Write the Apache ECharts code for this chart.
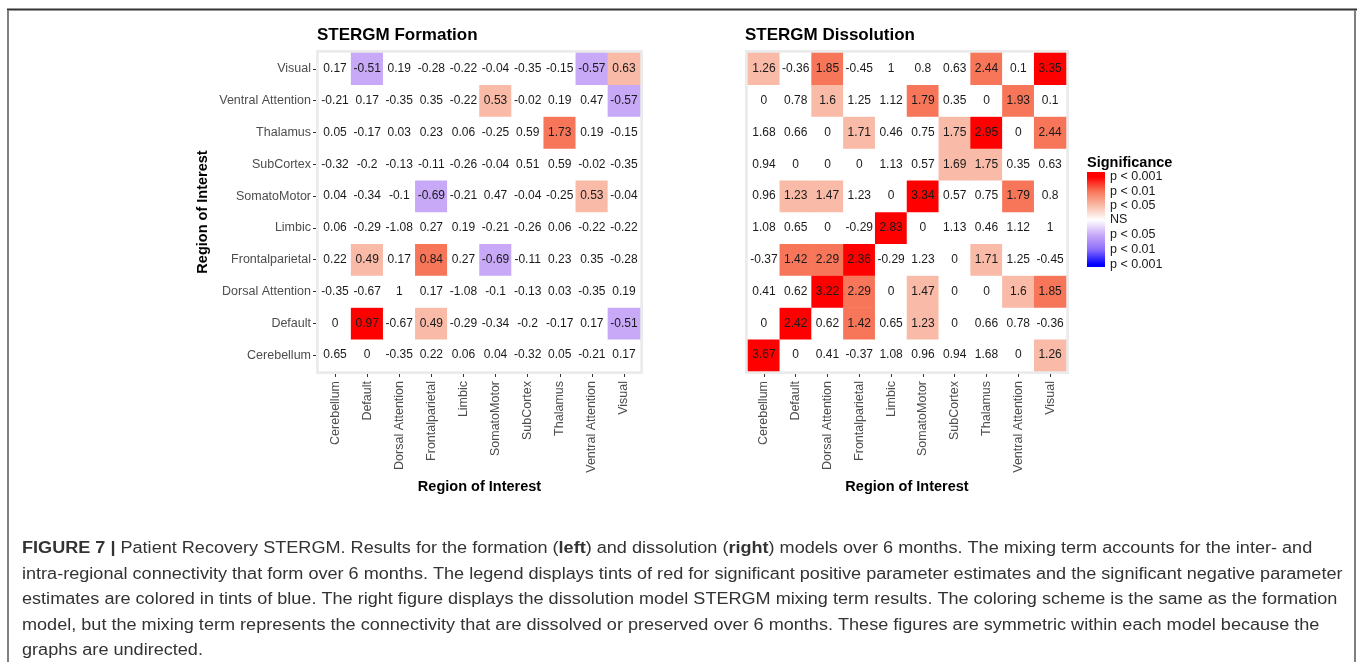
<!DOCTYPE html>
<html>
<head>
<meta charset="utf-8">
<title>STERGM Formation and Dissolution</title>
<script src="https://cdn.jsdelivr.net/npm/echarts@6/dist/echarts.min.js"></script>
<style>
  html, body { margin: 0; padding: 0; background: #ffffff; }
  #chart { width: 1358px; height: 662px; }
</style>
</head>
<body>
<div id="chart"></div>
<script>
// Regions of interest, bottom-to-top on the y axis and left-to-right on the x axis
const regions = ['Cerebellum', 'Default', 'Dorsal Attention', 'Frontalparietal', 'Limbic',
  'SomatoMotor', 'SubCortex', 'Thalamus', 'Ventral Attention', 'Visual'];

// Formation model: parameter estimates, one row per region (same order as `regions`)
const formationEstimates = [
  [0.65, 0, -0.35, 0.22, 0.06, 0.04, -0.32, 0.05, -0.21, 0.17],
  [0, 0.97, -0.67, 0.49, -0.29, -0.34, -0.2, -0.17, 0.17, -0.51],
  [-0.35, -0.67, 1, 0.17, -1.08, -0.1, -0.13, 0.03, -0.35, 0.19],
  [0.22, 0.49, 0.17, 0.84, 0.27, -0.69, -0.11, 0.23, 0.35, -0.28],
  [0.06, -0.29, -1.08, 0.27, 0.19, -0.21, -0.26, 0.06, -0.22, -0.22],
  [0.04, -0.34, -0.1, -0.69, -0.21, 0.47, -0.04, -0.25, 0.53, -0.04],
  [-0.32, -0.2, -0.13, -0.11, -0.26, -0.04, 0.51, 0.59, -0.02, -0.35],
  [0.05, -0.17, 0.03, 0.23, 0.06, -0.25, 0.59, 1.73, 0.19, -0.15],
  [-0.21, 0.17, -0.35, 0.35, -0.22, 0.53, -0.02, 0.19, 0.47, -0.57],
  [0.17, -0.51, 0.19, -0.28, -0.22, -0.04, -0.35, -0.15, -0.57, 0.63]
];

// Formation model: significance level (sign = direction; 1: p<0.05, 2: p<0.01, 3: p<0.001)
const formationSignificance = [
  [0, 0, 0, 0, 0, 0, 0, 0, 0, 0],
  [0, 3, 0, 1, 0, 0, 0, 0, 0, -1],
  [0, 0, 0, 0, 0, 0, 0, 0, 0, 0],
  [0, 1, 0, 2, 0, -1, 0, 0, 0, 0],
  [0, 0, 0, 0, 0, 0, 0, 0, 0, 0],
  [0, 0, 0, -1, 0, 0, 0, 0, 1, 0],
  [0, 0, 0, 0, 0, 0, 0, 0, 0, 0],
  [0, 0, 0, 0, 0, 0, 0, 2, 0, 0],
  [0, 0, 0, 0, 0, 1, 0, 0, 0, -1],
  [0, -1, 0, 0, 0, 0, 0, 0, -1, 1]
];

// Dissolution model: parameter estimates
const dissolutionEstimates = [
  [3.67, 0, 0.41, -0.37, 1.08, 0.96, 0.94, 1.68, 0, 1.26],
  [0, 2.42, 0.62, 1.42, 0.65, 1.23, 0, 0.66, 0.78, -0.36],
  [0.41, 0.62, 3.22, 2.29, 0, 1.47, 0, 0, 1.6, 1.85],
  [-0.37, 1.42, 2.29, 2.36, -0.29, 1.23, 0, 1.71, 1.25, -0.45],
  [1.08, 0.65, 0, -0.29, 2.83, 0, 1.13, 0.46, 1.12, 1],
  [0.96, 1.23, 1.47, 1.23, 0, 3.34, 0.57, 0.75, 1.79, 0.8],
  [0.94, 0, 0, 0, 1.13, 0.57, 1.69, 1.75, 0.35, 0.63],
  [1.68, 0.66, 0, 1.71, 0.46, 0.75, 1.75, 2.95, 0, 2.44],
  [0, 0.78, 1.6, 1.25, 1.12, 1.79, 0.35, 0, 1.93, 0.1],
  [1.26, -0.36, 1.85, -0.45, 1, 0.8, 0.63, 2.44, 0.1, 3.35]
];

// Dissolution model: significance level
const dissolutionSignificance = [
  [3, 0, 0, 0, 0, 0, 0, 0, 0, 1],
  [0, 3, 0, 2, 0, 1, 0, 0, 0, 0],
  [0, 0, 3, 2, 0, 1, 0, 0, 1, 2],
  [0, 2, 2, 3, 0, 0, 0, 1, 0, 0],
  [0, 0, 0, 0, 3, 0, 0, 0, 0, 0],
  [0, 1, 1, 0, 0, 3, 0, 0, 2, 0],
  [0, 0, 0, 0, 0, 0, 1, 1, 0, 0],
  [0, 0, 0, 1, 0, 0, 1, 3, 0, 2],
  [0, 0, 1, 0, 0, 2, 0, 0, 2, 0],
  [1, 0, 2, 0, 0, 0, 0, 2, 0, 3]
];

// Legend breaks, top to bottom
const legendLevels = [3, 2, 1, 0, -1, -2, -3];
const legendLabels = ['p < 0.001', 'p < 0.01', 'p < 0.05', 'NS', 'p < 0.05', 'p < 0.01', 'p < 0.001'];

const levelColors = {
  '3': '#FF0000', '2': '#F7765A', '1': '#F9BBA7', '0': '#FFFFFF',
  '-1': '#C7A9F7', '-2': '#8C6EFA', '-3': '#0000FF'
};

const FONT = '"Liberation Sans", Arial, Helvetica, sans-serif';

function toCells(est, sig) {
  const out = [];
  for (let y = 0; y < est.length; y++) {
    for (let x = 0; x < est[y].length; x++) {
      out.push([x, y, est[y][x], sig[y][x]]);
    }
  }
  return out;
}

const grids = [
  { left: 319, top: 53, width: 321, height: 318 },
  { left: 748, top: 53, width: 318, height: 318 }
];

function xAxisFor(i) {
  return {
    type: 'category', gridIndex: i, data: regions, position: 'bottom', offset: 3,
    axisLine: { show: false },
    axisTick: { show: true, alignWithLabel: true, length: 3, lineStyle: { color: '#333333', width: 1 } },
    axisLabel: { rotate: 90, margin: 7, color: '#4D4D4D', fontSize: 12.5, fontFamily: FONT, interval: 0 },
    splitLine: { show: false },
    name: 'Region of Interest', nameLocation: 'middle', nameGap: 105,
    nameTextStyle: { color: '#000000', fontSize: 14.5, fontWeight: 'bold', fontFamily: FONT }
  };
}

function yAxisFor(i) {
  const ax = {
    type: 'category', gridIndex: i, data: regions, offset: 3,
    axisLine: { show: false },
    axisTick: { show: i === 0, alignWithLabel: true, length: 3, lineStyle: { color: '#333333', width: 1 } },
    axisLabel: { show: i === 0, margin: 5, color: '#4D4D4D', fontSize: 12.5, fontFamily: FONT, interval: 0 },
    splitLine: { show: false }
  };
  if (i === 0) {
    ax.name = 'Region of Interest';
    ax.nameLocation = 'middle';
    ax.nameGap = 106;
    ax.nameRotate = 90;
    ax.nameTextStyle = { color: '#000000', fontSize: 14.5, fontWeight: 'bold', fontFamily: FONT };
  }
  return ax;
}

function heatSeries(i, cells) {
  return {
    type: 'heatmap', xAxisIndex: i, yAxisIndex: i, data: cells,
    label: {
      show: true, formatter: p => String(p.value[2]),
      color: '#1A1A1A', fontSize: 12, fontFamily: FONT
    },
    itemStyle: { borderWidth: 0 },
    emphasis: { disabled: true }
  };
}

// Colour bar for the significance legend
const barTop = 172, barHeight = 95, barLeft = 1087, barWidth = 18;
const levelY = [177, 191.5, 205.5, 220, 235, 249.5, 264.5];
const gradientStops = [{ offset: 0, color: levelColors['3'] }];
legendLevels.forEach((lv, k) => {
  gradientStops.push({ offset: (levelY[k] - barTop) / barHeight, color: levelColors[String(lv)] });
});
gradientStops.push({ offset: 1, color: levelColors['-3'] });

const legendGraphics = [
  {
    type: 'text', left: 1087, top: 155,
    style: { text: 'Significance', fill: '#000000', font: 'bold 14.5px ' + FONT }
  },
  {
    type: 'rect', shape: { x: barLeft, y: barTop, width: barWidth, height: barHeight },
    style: {
      fill: { type: 'linear', x: 0, y: 0, x2: 0, y2: 1, colorStops: gradientStops },
      stroke: null
    }
  }
];
legendLabels.forEach((txt, k) => {
  legendGraphics.push({
    type: 'text', x: 1110, y: levelY[k],
    style: { text: txt, fill: '#1A1A1A', font: '12.5px ' + FONT, textVerticalAlign: 'middle', verticalAlign: 'middle' }
  });
});

// Figure caption (set in a wide sans, so the glyphs are stretched horizontally)
const captionLines = [
  '{b|FIGURE 7 |} Patient Recovery STERGM. Results for the formation ({b|left}) and dissolution ({b|right}) models over 6 months. The mixing term accounts for the inter- and',
  'intra-regional connectivity that form over 6 months. The legend displays tints of red for significant positive parameter estimates and the significant negative parameter',
  'estimates are colored in tints of blue. The right figure displays the dissolution model STERGM mixing term results. The coloring scheme is the same as the formation',
  'model, but the mixing term represents the connectivity that are dissolved or preserved over 6 months. These figures are symmetric within each model because the',
  'graphs are undirected.'
];
const captionGraphics = captionLines.map((line, k) => ({
  type: 'text', x: 22, y: 549 + k * 25.5, scaleX: 1.13, scaleY: 1,
  style: {
    text: line, fill: '#333333', fontSize: 16, fontFamily: FONT,
    verticalAlign: 'middle', textVerticalAlign: 'middle',
    rich: { b: { fontWeight: 'bold', fontSize: 16, fontFamily: FONT, fill: '#333333' } }
  }
}));

// Frame around the figure panel
const frameGraphics = [
  { type: 'line', shape: { x1: 7, y1: 9.5, x2: 1357, y2: 9.5 }, style: { stroke: '#333333', lineWidth: 2 } },
  { type: 'line', shape: { x1: 8, y1: 10, x2: 8, y2: 662 }, style: { stroke: '#808080', lineWidth: 2 } },
  { type: 'line', shape: { x1: 1355, y1: 10, x2: 1355, y2: 662 }, style: { stroke: '#808080', lineWidth: 2 } }
];

const chart = echarts.init(document.getElementById('chart'), null, { renderer: 'canvas' });
chart.setOption({
  backgroundColor: '#ffffff',
  animation: false,
  textStyle: { fontFamily: FONT },
  title: [
    { text: 'STERGM Formation', left: 317, top: 27, padding: 0,
      textStyle: { fontSize: 17, fontWeight: 'bold', color: '#000000', fontFamily: FONT } },
    { text: 'STERGM Dissolution', left: 745, top: 27, padding: 0,
      textStyle: { fontSize: 17, fontWeight: 'bold', color: '#000000', fontFamily: FONT } }
  ],
  grid: grids.map(g => Object.assign({
    show: true, backgroundColor: '#EBEBEB', borderColor: '#EBEBEB', borderWidth: 6, containLabel: false
  }, g)),
  xAxis: [xAxisFor(0), xAxisFor(1)],
  yAxis: [yAxisFor(0), yAxisFor(1)],
  visualMap: {
    type: 'piecewise', show: false, dimension: 3, seriesIndex: [0, 1],
    pieces: legendLevels.map(lv => ({ value: lv, color: levelColors[String(lv)] }))
  },
  series: [
    heatSeries(0, toCells(formationEstimates, formationSignificance)),
    heatSeries(1, toCells(dissolutionEstimates, dissolutionSignificance))
  ],
  graphic: frameGraphics.concat(legendGraphics, captionGraphics)
});
</script>
</body>
</html>
